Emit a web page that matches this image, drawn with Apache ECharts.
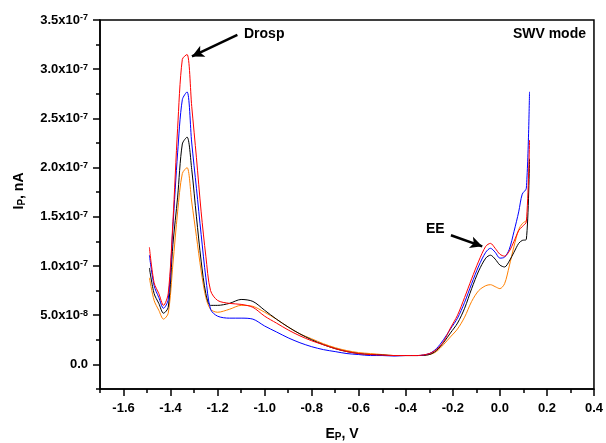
<!DOCTYPE html>
<html><head><meta charset="utf-8">
<script src="https://cdn.jsdelivr.net/npm/echarts@6/dist/echarts.min.js"></script>
<style>html,body{margin:0;padding:0;background:#fff}#c{width:606px;height:443px}</style>
</head><body><div id="c"></div>
<script>
// Potential E_P (V)
const potential = [-1.49,-1.47,-1.45,-1.43,-1.41,-1.39,-1.37,-1.35,-1.33,-1.31,-1.29,-1.27,-1.25,-1.23,-1.20,-1.15,-1.10,-1.05,-1.00,-0.95,-0.90,-0.85,-0.80,-0.75,-0.70,-0.65,-0.60,-0.55,-0.50,-0.45,-0.40,-0.35,-0.30,-0.27,-0.24,-0.21,-0.18,-0.15,-0.12,-0.09,-0.06,-0.04,-0.02,0.00,0.02,0.04,0.06,0.08,0.095,0.1125,0.126];
// Current I_P in units of 1e-7
const currentRed = [1.19,0.83,0.72,0.60,0.72,1.45,2.40,3.10,3.15,2.62,2.10,1.55,1.10,0.75,0.65,0.62,0.61,0.58,0.49,0.42,0.35,0.29,0.24,0.20,0.16,0.13,0.11,0.10,0.095,0.09,0.09,0.09,0.11,0.15,0.23,0.37,0.50,0.68,0.87,1.05,1.20,1.23,1.18,1.12,1.10,1.15,1.25,1.36,1.40,1.45,2.28];
const currentBlue = [1.11,0.80,0.68,0.57,0.66,1.40,2.15,2.69,2.77,2.25,1.79,1.32,0.88,0.56,0.49,0.47,0.47,0.46,0.39,0.33,0.27,0.22,0.18,0.15,0.13,0.11,0.10,0.09,0.09,0.085,0.09,0.09,0.11,0.16,0.25,0.36,0.47,0.63,0.82,1.00,1.14,1.18,1.14,1.08,1.09,1.17,1.35,1.55,1.73,1.79,2.77];
const currentBlack = [0.98,0.72,0.62,0.52,0.58,1.22,1.70,2.24,2.31,1.98,1.50,1.05,0.72,0.60,0.60,0.62,0.66,0.64,0.55,0.46,0.38,0.31,0.25,0.20,0.16,0.13,0.11,0.10,0.095,0.09,0.09,0.09,0.10,0.14,0.22,0.32,0.42,0.57,0.77,0.95,1.08,1.11,1.07,1.01,0.99,1.05,1.14,1.23,1.26,1.27,2.09];
const currentOrange = [0.88,0.65,0.55,0.46,0.52,1.02,1.55,1.94,2.00,1.65,1.30,0.95,0.68,0.56,0.53,0.56,0.60,0.59,0.53,0.46,0.38,0.31,0.26,0.21,0.17,0.14,0.12,0.11,0.10,0.09,0.09,0.09,0.10,0.13,0.20,0.28,0.36,0.48,0.64,0.75,0.80,0.81,0.79,0.77,0.82,1.00,1.20,1.37,1.43,1.46,null];
// Tick label values
const xTickLabels = [-1.6,-1.4,-1.2,-1.0,-0.8,-0.6,-0.4,-0.2,0.0,0.2,0.4];
const yTickLabels = [0,0.5,1.0,1.5,2.0,2.5,3.0,3.5];
// Annotation arrows [from, to] in data units
const arrowDrosp = [[-1.116,3.35],[-1.309,3.13]];
const arrowEE = [[-0.208,1.313],[-0.075,1.20]];

const FONT = "'Liberation Sans', Arial, sans-serif";
function pairs(ys){ const out=[]; potential.forEach((x,i)=>{ if(ys[i]!==null) out.push([x,ys[i]]); }); return out; }

const chart = echarts.init(document.getElementById('c'), null, {renderer:'canvas'});
const axisLineStyle = {color:'#000', width:1.5};
const labelBase = {color:'#000', fontWeight:'bold', fontSize:13, fontFamily:FONT};

function mkSeries(name, data, color, z){
  return {name, type:'line', data:pairs(data), showSymbol:false, smooth:0.3,
    lineStyle:{color, width:1}, itemStyle:{color}, z, silent:true};
}
const series = [
  mkSeries('orange', currentOrange, '#ff8000', 2),
  mkSeries('black', currentBlack, '#000000', 3),
  mkSeries('blue', currentBlue, '#0000ff', 4),
  mkSeries('red', currentRed, '#ff0000', 5)
];
series[1].markLine = {
  silent:true, symbol:['none','arrow'], symbolSize:[9,12],
  lineStyle:{color:'#000', width:2.5, type:'solid'}, label:{show:false},
  emphasis:{disabled:true},
  data:[
    [{coord:arrowDrosp[0]},{coord:arrowDrosp[1]}],
    [{coord:arrowEE[0]},{coord:arrowEE[1]}]
  ]
};

const titleRich = {
  a:{fontSize:14, fontWeight:'bold', fontFamily:FONT, fill:'#000', lineHeight:17},
  s:{fontSize:10, fontWeight:'bold', fontFamily:FONT, fill:'#000', verticalAlign:'bottom', lineHeight:10}
};

chart.setOption({
  animation:false,
  backgroundColor:'#fff',
  grid:{left:100, top:20, right:10, bottom:54, show:true, borderColor:'#000', borderWidth:1.5},
  xAxis:[
    {type:'value', min:-1.7, max:0.4, interval:0.1, position:'bottom',
     axisLine:{show:true, onZero:false, lineStyle:axisLineStyle},
     axisTick:{show:true, length:4, lineStyle:axisLineStyle},
     axisLabel:Object.assign({margin:13, customValues:xTickLabels, formatter:v=>v.toFixed(1)}, labelBase),
     splitLine:{show:false}},
    {type:'value', min:-1.7, max:0.4, position:'bottom', gridIndex:0,
     axisLine:{show:false, onZero:false},
     axisTick:{show:true, length:7, customValues:xTickLabels, lineStyle:axisLineStyle},
     axisLabel:{show:false}, splitLine:{show:false}}
  ],
  yAxis:[
    {type:'value', min:-0.25, max:3.5, interval:0.25, position:'left',
     axisLine:{show:true, onZero:false, lineStyle:axisLineStyle},
     axisTick:{show:true, length:4, lineStyle:axisLineStyle},
     axisLabel:Object.assign({margin:12, customValues:yTickLabels,
       formatter:v=>{
         if(Math.abs(v)<1e-9) return '0.0';
         if(Math.abs(v-0.5)<1e-9) return '5.0x10{sup|-8}';
         return v.toFixed(1)+'x10{sup|-7}';
       },
       rich:{sup:{fontSize:9, fontWeight:'bold', fontFamily:FONT, color:'#000', verticalAlign:'top', lineHeight:9}}
     }, labelBase),
     splitLine:{show:false}},
    {type:'value', min:-0.25, max:3.5, position:'left', gridIndex:0,
     axisLine:{show:false, onZero:false},
     axisTick:{show:true, length:7, customValues:yTickLabels, lineStyle:axisLineStyle},
     axisLabel:{show:false}, splitLine:{show:false}}
  ],
  series,
  graphic:[
    {type:'text', x:19, y:191, rotation:Math.PI/2,
     style:{text:'{a|I}{s|P}{a|, nA}', align:'center', verticalAlign:'middle', rich:titleRich}},
    {type:'text', x:342, y:434,
     style:{text:'{a|E}{s|P}{a|, V}', align:'center', verticalAlign:'middle', rich:titleRich}},
    {type:'text', x:244, y:34, style:{text:'Drosp', align:'left', verticalAlign:'middle', font:"bold 14px "+FONT, fill:'#000'}},
    {type:'text', x:586, y:34, style:{text:'SWV mode', align:'right', verticalAlign:'middle', font:"bold 14px "+FONT, fill:'#000'}},
    {type:'text', x:426, y:229, style:{text:'EE', align:'left', verticalAlign:'middle', font:"bold 14px "+FONT, fill:'#000'}}
  ]
});
</script>
</body></html>
